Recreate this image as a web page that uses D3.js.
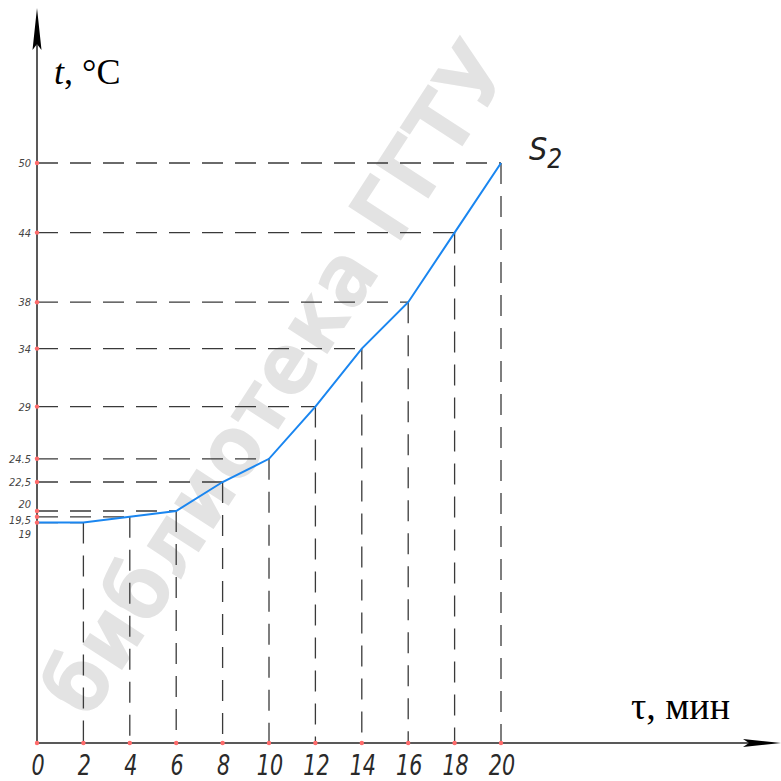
<!DOCTYPE html>
<html><head><meta charset="utf-8">
<script src="https://cdn.jsdelivr.net/npm/d3@7"></script>
<style>
html,body{margin:0;padding:0;background:#fff;}
svg{display:block;}
</style></head>
<body>
<svg id="chart" width="781" height="781"></svg>
<script>
// Data
const times = [0, 2, 4, 6, 8, 10, 12, 14, 16, 18, 20];          // τ, мин
const temps = [19, 19, 19.5, 20, 22.5, 24.5, 29, 34, 38, 44, 50]; // t, °C
const xTickLabels = ["0","2","4","6","8","10","12","14","16","18","20"];
const yTickValues = [19, 19.5, 20, 22.5, 24.5, 29, 34, 38, 44, 50];
const yTickLabels = ["19","19,5","20","22,5","24.5","29","34","38","44","50"];
const curveName = "S";
const curveSub = "2";
const watermark = "библиотека ГГТУ";

const svg = d3.select("#chart");
const x = d3.scaleLinear().domain([0, 20]).range([37, 501]);
const y = d3.scaleLinear().domain([0, 50]).range([743, 163]);

// watermark, laid out letter by letter along a diagonal
(function () {
  const fam = "'Liberation Sans Narrow', 'DejaVu Sans Condensed', sans-serif";
  const fs = 86, ang = -57, rad = ang * Math.PI / 180;
  const dir = [Math.cos(rad), Math.sin(rad)];
  const perp = [-Math.sin(rad), Math.cos(rad)];
  const g = svg.append("g");
  const meas = g.append("text").attr("font-family", fam).attr("font-weight", "bold").attr("font-size", fs);
  const chars = Array.from(watermark);
  const widths = chars.map(c => { meas.text(c === " " ? "\u00a0" : c); return meas.node().getComputedTextLength() + 1; });
  meas.remove();
  const L = d3.sum(widths);
  const cx = 276, cy = 378, off = 30;
  let cum = 0;
  chars.forEach((c, i) => {
    const s = cum + widths[i] / 2 - L / 2;
    cum += widths[i];
    if (c === " ") return;
    const px = cx + s * dir[0] + off * perp[0];
    const py = cy + s * dir[1] + off * perp[1];
    g.append("text").attr("transform", `translate(${px},${py}) rotate(${ang})`)
      .attr("text-anchor", "middle").attr("font-family", fam).attr("font-weight", "bold")
      .attr("font-size", fs).attr("fill", "#e3e3e3").text(c);
  });
})();

const dashCol = "#3a3a3a";
const pts = times.map((t, i) => ({t, v: temps[i]}));

// horizontal dashed guides (from axis to point)
svg.append("g").selectAll("line").data(pts.filter((d, i) => i > 0)).join("line")
  .attr("x1", x(0)).attr("x2", d => x(d.t))
  .attr("y1", d => y(d.v)).attr("y2", d => y(d.v))
  .attr("stroke", dashCol).attr("stroke-width", 1.3)
  .attr("stroke-dasharray", "21,12");

// vertical dashed guides (from point down to axis)
svg.append("g").selectAll("line").data(pts.filter(d => d.t > 0)).join("line")
  .attr("x1", d => x(d.t)).attr("x2", d => x(d.t))
  .attr("y1", d => y(d.v)).attr("y2", y(0))
  .attr("stroke", dashCol).attr("stroke-width", 1.3)
  .attr("stroke-dasharray", "21,12");

// curve
svg.append("path").datum(pts)
  .attr("d", d3.line().x(d => x(d.t)).y(d => y(d.v)))
  .attr("fill", "none").attr("stroke", "#1a86f0").attr("stroke-width", 2);

// axes
svg.append("line").attr("x1", x(0)).attr("x2", 770).attr("y1", y(0)).attr("y2", y(0))
  .attr("stroke", "#222").attr("stroke-width", 1.5);
svg.append("line").attr("x1", x(0)).attr("x2", x(0)).attr("y1", y(0)).attr("y2", 20)
  .attr("stroke", "#222").attr("stroke-width", 1.5);
// arrowheads
const ax = x(0), ay = y(0);
svg.append("path").attr("d", `M${ax},8 L${ax+4.5},50 L${ax},44 L${ax-4.5},50 Z`).attr("fill", "#000");
svg.append("path").attr("d", `M781,${ay} L743,${ay-4} L749,${ay} L743,${ay+4} Z`).attr("fill", "#000");

// tick dots
svg.append("g").selectAll("circle").data(times).join("circle")
  .attr("cx", d => x(d)).attr("cy", y(0)).attr("r", 2.2).attr("fill", "#ff6b6b");
svg.append("g").selectAll("circle").data(yTickValues).join("circle")
  .attr("cx", x(0)).attr("cy", d => y(d)).attr("r", 2.2).attr("fill", "#ff6b6b");

// x tick labels
const tickFont = "'Liberation Sans Narrow', 'DejaVu Sans Condensed', 'Open Sans', sans-serif";
svg.append("g").selectAll("text").data(times).join("text")
  .attr("x", d => x(d) + 1).attr("y", 775)
  .attr("text-anchor", "middle")
  .attr("font-family", tickFont).attr("font-style", "italic").attr("font-weight", 300)
  .attr("font-size", 28).attr("fill", "#2a2a2a")
  .attr("transform", d => `translate(${x(d)+1},775) scale(0.82,1) translate(${-(x(d)+1)},-775)`)
  .text((d, i) => xTickLabels[i]);

// y tick labels
const yOff = {19: 11, 19.5: 3, 20: -7};
svg.append("g").selectAll("text").data(yTickValues).join("text")
  .attr("x", 31).attr("y", d => y(d) + 4 + (yOff[d] || 0))
  .attr("text-anchor", "end")
  .attr("font-family", tickFont).attr("font-style", "italic")
  .attr("font-size", 11).attr("fill", "#444")
  .text((d, i) => yTickLabels[i]);

// axis titles
const t1 = svg.append("text").attr("x", 54).attr("y", 84)
  .attr("font-family", "'Liberation Serif', 'Times New Roman', serif").attr("font-size", 36).attr("fill", "#000");
t1.append("tspan").attr("font-style", "italic").text("t");
t1.append("tspan").text(", °C");

svg.append("text").attr("x", 631).attr("y", 719)
  .attr("font-family", "'Liberation Serif', 'Times New Roman', serif").attr("font-size", 38).attr("fill", "#000")
  .text("τ, мин");

// curve label
const s = svg.append("text").attr("x", 529).attr("y", 160)
  .attr("font-family", tickFont).attr("font-style", "italic").attr("font-weight", 300)
  .attr("font-size", 32).attr("fill", "#222");
s.append("tspan").text(curveName);
s.append("tspan").attr("font-size", 26).attr("dy", 8).text(curveSub);
</script>
</body></html>
